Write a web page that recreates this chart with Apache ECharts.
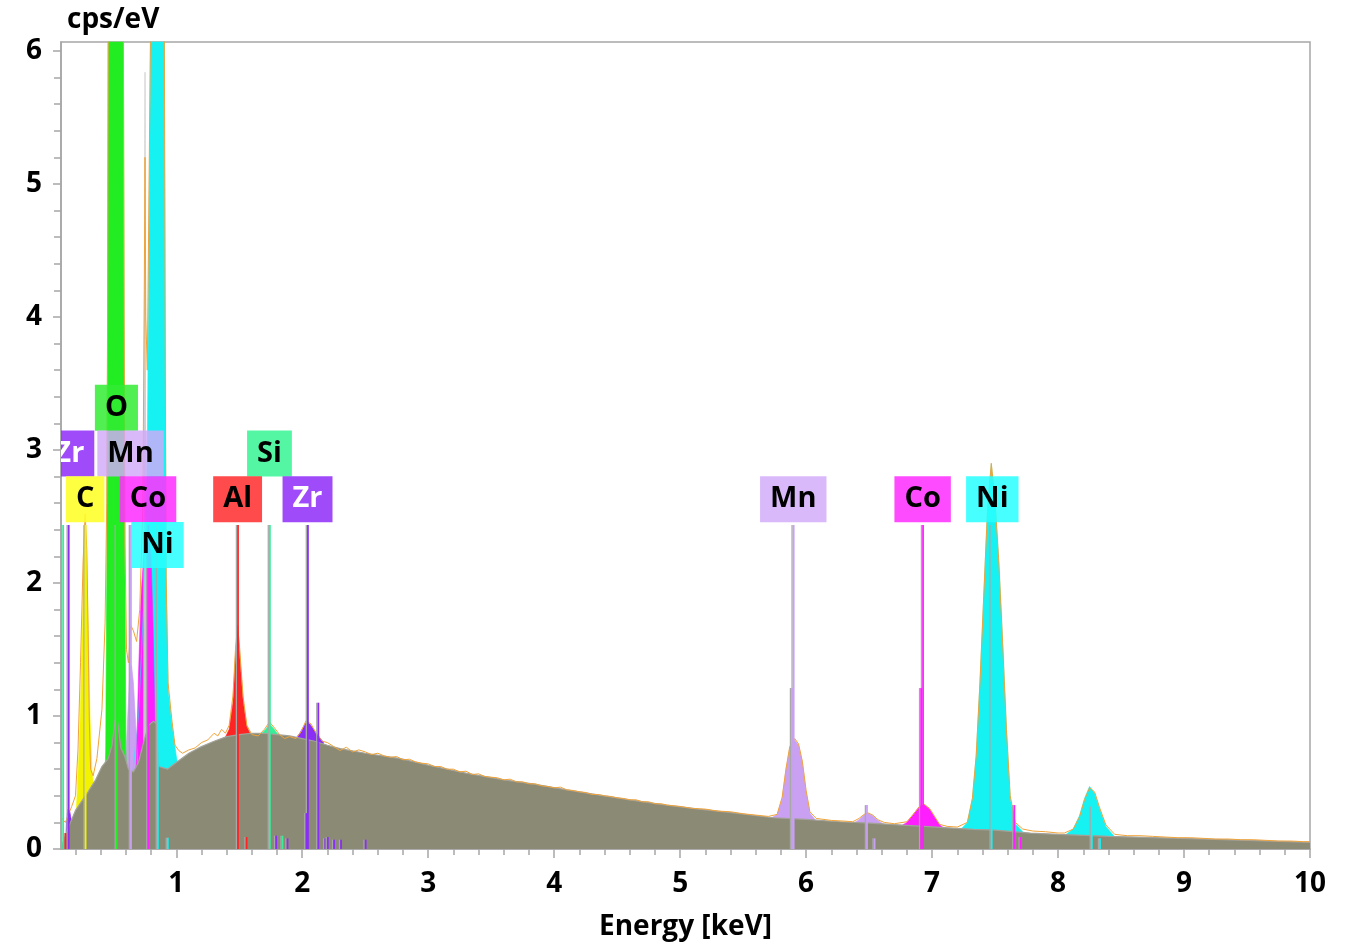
<!DOCTYPE html>
<html>
<head>
<meta charset="utf-8">
<title>EDS spectrum</title>
<script src="https://cdn.jsdelivr.net/npm/echarts@6/dist/echarts.min.js"></script>
<style>
    html, body { margin: 0; padding: 0; background: #fff; }
    #main { width: 1345px; height: 946px; }
</style>
</head>
<body>
<div id="main"></div>
<script>
// axis ticks
var xTicks = [1, 2, 3, 4, 5, 6, 7, 8, 9, 10];
var yTicks = [0, 1, 2, 3, 4, 5, 6];

// gray background (bremsstrahlung), [keV, cps/eV]
var background = [[0.085, 0.02], [0.1, 0.05], [0.12, 0.1], [0.16, 0.2], [0.2, 0.29], [0.25, 0.36], [0.3, 0.43], [0.36, 0.52],
    [0.41, 0.62], [0.46, 0.68], [0.49, 0.78], [0.515, 0.97], [0.535, 0.95], [0.56, 0.76], [0.59, 0.7], [0.62, 0.6], [0.66, 0.58],
    [0.7, 0.65], [0.74, 0.8], [0.78, 0.93], [0.82, 0.96], [0.845, 0.94], [0.86, 0.62], [0.93, 0.6], [1.0, 0.65], [1.1, 0.72],
    [1.2, 0.77], [1.3, 0.81], [1.4, 0.845], [1.5, 0.86], [1.6, 0.87], [1.7, 0.87], [1.8, 0.86], [1.9, 0.85], [2.0, 0.83],
    [2.1, 0.81], [2.2, 0.78], [2.3, 0.755], [2.5, 0.72], [2.78, 0.68], [3.0, 0.63], [3.3, 0.57], [3.6, 0.52], [3.83, 0.49],
    [4.1, 0.445], [4.36, 0.405], [4.6, 0.37], [4.89, 0.33], [5.15, 0.3], [5.42, 0.272], [5.74, 0.235], [6.0, 0.222],
    [6.27, 0.205], [6.5, 0.195], [7.0, 0.167], [7.33, 0.148], [7.5, 0.142], [7.78, 0.12], [8.0, 0.11], [8.4, 0.095],
    [8.97, 0.08], [9.5, 0.065], [10.0, 0.05]];

// element peaks
var peakNiL = [[0.64, 0], [0.66, 0.62], [0.7, 1.0], [0.74, 1.8], [0.77, 3.0], [0.797, 6.2], [0.82, 12], [0.85, 15], [0.88, 12],
    [0.905, 6.2], [0.913, 3.5], [0.92, 2.0], [0.935, 1.2], [0.965, 0.94], [1.0, 0.7], [1.015, 0.62], [1.03, 0]];
var peakMnL = [[0.57, 0], [0.59, 0.5], [0.61, 0.9], [0.63, 1.3], [0.645, 1.38], [0.66, 1.25], [0.68, 0.9], [0.7, 0.55], [0.72, 0]];
var peakCoL = [[0.66, 0], [0.685, 0.7], [0.7, 1.3], [0.72, 1.9], [0.745, 2.25], [0.776, 2.38], [0.8, 2.2], [0.815, 1.7],
    [0.83, 1.0], [0.845, 0.5], [0.86, 0]];
var spike = [[0.738, 0], [0.746, 3.2], [0.752, 5.84], [0.757, 3.2], [0.764, 0]];
var peakO = [[0.42, 0], [0.44, 0.75], [0.448, 2.0], [0.455, 3.8], [0.46, 6.2], [0.475, 22], [0.5, 58], [0.52, 73], [0.545, 58],
    [0.57, 22], [0.58, 6.2], [0.586, 3.8], [0.593, 2.0], [0.6, 0.75], [0.62, 0]];
var peakC = [[0.19, 0], [0.215, 0.45], [0.235, 0.9], [0.25, 1.5], [0.265, 2.1], [0.277, 2.45], [0.29, 2.15], [0.305, 1.5],
    [0.315, 1.0], [0.33, 0.6], [0.35, 0.42], [0.37, 0]];
var peakZrM = [[0.12, 0], [0.128, 0.2], [0.14, 0.3], [0.155, 0.28], [0.17, 0.2], [0.18, 0]];
var peakAl = [[1.38, 0.82], [1.42, 0.9], [1.45, 1.1], [1.47, 1.45], [1.487, 1.66], [1.5, 1.5], [1.53, 1.12], [1.56, 0.92], [1.6, 0.84]];
var peakSi = [[1.64, 0.84], [1.68, 0.87], [1.71, 0.9], [1.74, 0.94], [1.77, 0.91], [1.8, 0.87], [1.84, 0.84]];
var peakZrL = [[1.94, 0.82], [1.98, 0.87], [2.01, 0.92], [2.03, 0.95], [2.06, 0.94], [2.09, 0.9], [2.12, 0.86], [2.17, 0.8]];
var peakMnK = [[5.7, 0.22], [5.77, 0.26], [5.81, 0.38], [5.84, 0.6], [5.87, 0.76], [5.91, 0.82], [5.94, 0.78], [5.97, 0.65],
    [6.0, 0.43], [6.03, 0.27], [6.08, 0.21]];
var peakMnKb = [[6.37, 0.19], [6.42, 0.22], [6.46, 0.255], [6.49, 0.268], [6.53, 0.25], [6.57, 0.215], [6.62, 0.185]];
var peakCoK = [[6.74, 0.165], [6.8, 0.2], [6.85, 0.26], [6.9, 0.32], [6.94, 0.333], [6.98, 0.3], [7.02, 0.24], [7.06, 0.18], [7.1, 0.155]];
var peakNiK = [[7.22, 0.14], [7.28, 0.2], [7.32, 0.38], [7.35, 0.7], [7.38, 1.25], [7.41, 1.9], [7.44, 2.55], [7.47, 2.89],
    [7.5, 2.6], [7.53, 2.15], [7.56, 1.55], [7.59, 0.9], [7.62, 0.38], [7.66, 0.19], [7.72, 0.13]];
var peakNiKb = [[8.05, 0.1], [8.12, 0.15], [8.17, 0.25], [8.21, 0.38], [8.25, 0.47], [8.29, 0.42], [8.33, 0.3], [8.38, 0.17], [8.45, 0.09]];

// measured spectrum (orange line)
var spectrum = [[0.085, 0.24], [0.1, 0.22], [0.12, 0.2], [0.14, 0.25], [0.17, 0.32], [0.2, 0.4], [0.22, 0.75], [0.24, 1.4],
    [0.26, 2.15], [0.277, 2.52], [0.29, 2.25], [0.3, 1.65], [0.31, 0.95], [0.32, 0.6], [0.34, 0.55], [0.37, 0.68], [0.41, 1.05],
    [0.435, 1.7], [0.448, 2.6], [0.455, 4.0], [0.46, 6.3], [0.475, 22], [0.5, 58], [0.52, 73], [0.545, 58], [0.57, 22],
    [0.58, 6.3], [0.586, 4.0], [0.593, 2.3], [0.605, 1.5], [0.62, 1.4], [0.64, 1.68], [0.66, 1.64], [0.685, 1.56], [0.71, 1.8],
    [0.735, 2.6], [0.746, 4.2], [0.752, 5.2], [0.758, 4.0], [0.77, 3.6], [0.797, 6.3], [0.82, 12], [0.85, 15], [0.88, 12],
    [0.905, 6.3], [0.913, 3.6], [0.92, 2.05], [0.935, 1.25], [0.965, 0.97], [0.99, 0.78], [1.02, 0.74], [1.05, 0.72],
    [1.1, 0.745], [1.15, 0.76], [1.2, 0.8], [1.25, 0.82], [1.3, 0.87], [1.33, 0.85], [1.36, 0.9], [1.39, 0.87], [1.42, 0.93],
    [1.45, 1.15], [1.47, 1.5], [1.487, 1.68], [1.5, 1.55], [1.53, 1.15], [1.56, 0.93], [1.6, 0.86], [1.65, 0.85], [1.7, 0.9],
    [1.74, 0.955], [1.78, 0.91], [1.82, 0.86], [1.86, 0.83], [1.9, 0.845], [1.95, 0.83], [1.99, 0.88], [2.03, 0.965],
    [2.07, 0.94], [2.11, 0.87], [2.16, 0.81], [2.2, 0.8], [2.25, 0.77], [2.3, 0.74], [2.35, 0.765], [2.4, 0.73], [2.45, 0.745],
    [2.5, 0.73], [2.55, 0.71], [2.6, 0.72], [2.65, 0.7], [2.7, 0.69], [2.75, 0.695], [2.8, 0.67], [2.85, 0.675], [2.9, 0.655],
    [2.95, 0.645], [3.0, 0.64], [3.05, 0.62], [3.1, 0.62], [3.15, 0.6], [3.2, 0.6], [3.25, 0.58], [3.3, 0.585], [3.35, 0.56],
    [3.4, 0.565], [3.45, 0.545], [3.5, 0.54], [3.55, 0.535], [3.6, 0.52], [3.65, 0.525], [3.7, 0.505], [3.75, 0.505],
    [3.8, 0.49], [3.85, 0.49], [3.9, 0.475], [3.95, 0.47], [4.0, 0.46], [4.05, 0.465], [4.1, 0.445], [4.15, 0.44], [4.2, 0.43],
    [4.25, 0.425], [4.3, 0.41], [4.35, 0.41], [4.4, 0.4], [4.45, 0.395], [4.5, 0.385], [4.55, 0.38], [4.6, 0.37], [4.65, 0.37],
    [4.7, 0.355], [4.75, 0.355], [4.8, 0.34], [4.85, 0.34], [4.9, 0.33], [5.0, 0.32], [5.1, 0.305], [5.2, 0.3], [5.3, 0.285],
    [5.4, 0.28], [5.5, 0.265], [5.6, 0.255], [5.7, 0.245], [5.77, 0.26], [5.81, 0.39], [5.84, 0.6], [5.87, 0.77], [5.91, 0.83],
    [5.94, 0.79], [5.97, 0.66], [6.0, 0.44], [6.03, 0.28], [6.08, 0.23], [6.2, 0.215], [6.3, 0.21], [6.37, 0.205], [6.42, 0.23],
    [6.46, 0.26], [6.49, 0.272], [6.53, 0.255], [6.57, 0.22], [6.62, 0.2], [6.7, 0.19], [6.8, 0.205], [6.85, 0.26], [6.9, 0.32],
    [6.94, 0.335], [6.98, 0.305], [7.02, 0.245], [7.06, 0.185], [7.12, 0.17], [7.2, 0.165], [7.28, 0.2], [7.32, 0.38],
    [7.35, 0.7], [7.38, 1.25], [7.41, 1.9], [7.44, 2.55], [7.47, 2.9], [7.5, 2.62], [7.53, 2.15], [7.56, 1.55], [7.59, 0.9],
    [7.62, 0.4], [7.66, 0.2], [7.72, 0.15], [7.8, 0.135], [7.9, 0.13], [8.0, 0.12], [8.05, 0.12], [8.12, 0.15], [8.17, 0.24],
    [8.21, 0.37], [8.25, 0.46], [8.29, 0.43], [8.33, 0.31], [8.38, 0.18], [8.45, 0.11], [8.55, 0.1], [8.65, 0.1], [8.75, 0.095],
    [8.85, 0.09], [8.95, 0.085], [9.05, 0.085], [9.15, 0.08], [9.25, 0.075], [9.35, 0.075], [9.45, 0.07], [9.55, 0.07],
    [9.65, 0.065], [9.75, 0.06], [9.85, 0.06], [9.95, 0.055], [10.0, 0.055]];

// line markers: energy, height, element
var markerEnergy = [0.099, 0.143, 0.277, 0.525, 0.637, 0.776, 0.851, 1.487, 1.74, 2.042, 5.898, 6.925, 7.47,
    2.125, 5.885, 6.91, 6.48, 6.54, 7.65, 7.7, 8.265, 8.33, 0.117, 0.93, 1.555, 1.79, 1.84, 1.88, 2.03, 2.18, 2.2, 2.25, 2.305, 2.5];
var markerTop = [2.435, 2.435, 2.435, 2.435, 2.435, 2.435, 2.435, 2.435, 2.435, 2.435, 2.435, 2.435, 2.435,
    1.1, 1.21, 1.21, 0.33, 0.08, 0.33, 0.09, 0.32, 0.08, 0.12, 0.085, 0.09, 0.1, 0.1, 0.08, 0.27, 0.08, 0.09, 0.07, 0.07, 0.07];
var markerElement = ['Si', 'Zr', 'C', 'O', 'Mn', 'Co', 'Ni', 'Al', 'Si', 'Zr', 'Mn', 'Co', 'Ni',
    'Zr', 'Mn', 'Co', 'Mn', 'Mn', 'Co', 'Co', 'Ni', 'Ni', 'Al', 'Ni', 'Al', 'Zr', 'Si', 'Zr', 'Zr', 'Zr', 'Zr', 'Zr', 'Zr', 'Zr'];

// element labels
var labelText = ['O', 'Zr', 'Mn', 'Si', 'C', 'Co', 'Al', 'Zr', 'Ni', 'Mn', 'Co', 'Ni'];
var labelEnergy = [0.525, 0.151, 0.637, 1.74, 0.277, 0.776, 1.487, 2.042, 0.851, 5.898, 6.925, 7.478];
var labelRow = [0, 1, 1, 1, 2, 2, 2, 2, 3, 2, 2, 2];

var rowValue = [3.318, 2.974, 2.63, 2.286];
var elemColor = { C: '#f3f300', O: '#22ec22', Al: '#ff2424', Si: '#38ee98', Mn: '#c9a0f2', Co: '#ff1eff', Ni: '#16f2f2', Zr: '#8a2ef5' };
var labelBg = {
    C: 'rgba(255,255,40,0.88)', O: 'rgba(50,236,50,0.85)', Al: 'rgba(255,50,50,0.88)', Si: 'rgba(60,245,150,0.88)',
    Mn: 'rgba(210,170,250,0.82)', Co: 'rgba(255,50,255,0.88)', Ni: 'rgba(40,255,255,0.85)', Zr: 'rgba(150,55,250,0.9)'
};
var FONT = '"Open Sans", "DejaVu Sans", sans-serif';
var AXIS_GRAY = '#a6a6a6';

var xMinor = [], yMinor = [];
for (var t = 2; t < 100; t += 2) { if (t % 10) xMinor.push(t / 10); }
for (var u = 2; u < 60; u += 2) { if (u % 10) yMinor.push(u / 10); }

function area(data, color) {
    return {
        type: 'line', data: data, symbol: 'none', silent: true, z: 2,
        lineStyle: { width: 0.6, color: color },
        areaStyle: { color: color, opacity: 1 }
    };
}

var chart = echarts.init(document.getElementById('main'));

var option = {
    animation: false,
    grid: { left: 61, right: 35, top: 42, bottom: 94, show: true, borderColor: AXIS_GRAY, borderWidth: 1.5 },
    graphic: [{
        type: 'text', left: 67, top: 6,
        style: { text: 'cps/eV', font: 'bold 28px ' + FONT, fill: '#000' }
    }],
    xAxis: [{
        type: 'value', min: 0.085, max: 10, position: 'bottom',
        name: 'Energy [keV]', nameLocation: 'middle', nameGap: 64,
        nameTextStyle: { fontFamily: FONT, fontWeight: 'bold', fontSize: 28, color: '#000' },
        axisLine: { lineStyle: { color: AXIS_GRAY, width: 1.5 } },
        axisTick: { customValues: xTicks, length: 9, lineStyle: { color: AXIS_GRAY, width: 1.5 } },
        axisLabel: { customValues: xTicks, margin: 21, fontFamily: FONT, fontWeight: 'bold', fontSize: 28, color: '#000' },
        splitLine: { show: false }
    }, {
        type: 'value', min: 0.085, max: 10, position: 'bottom',
        axisLine: { show: false },
        axisTick: { customValues: xMinor, length: 6, lineStyle: { color: AXIS_GRAY, width: 1.5 } },
        axisLabel: { show: false },
        splitLine: { show: false }
    }],
    yAxis: [{
        type: 'value', min: 0, max: 6.067, position: 'left',
        axisLine: { show: true, lineStyle: { color: AXIS_GRAY, width: 1.5 } },
        axisTick: { show: true, customValues: yTicks, length: 8, lineStyle: { color: AXIS_GRAY, width: 1.5 } },
        axisLabel: { customValues: yTicks, margin: 19, fontFamily: FONT, fontWeight: 'bold', fontSize: 28, color: '#000' },
        splitLine: { show: false }
    }, {
        type: 'value', min: 0, max: 6.067, position: 'left',
        axisLine: { show: false },
        axisTick: { show: true, customValues: yMinor, length: 7, lineStyle: { color: AXIS_GRAY, width: 1.5 } },
        axisLabel: { show: false },
        splitLine: { show: false }
    }],
    series: [
        area(peakNiL, elemColor.Ni),
        area(peakMnL, elemColor.Mn),
        area(peakCoL, elemColor.Co),
        area(spike, '#c6c6c6'),
        area(peakO, elemColor.O),
        area(peakC, elemColor.C),
        area(peakZrM, elemColor.Zr),
        area(peakAl, elemColor.Al),
        area(peakSi, elemColor.Si),
        area(peakZrL, elemColor.Zr),
        area(peakMnK, elemColor.Mn),
        area(peakMnKb, elemColor.Mn),
        area(peakCoK, elemColor.Co),
        area(peakNiK, elemColor.Ni),
        area(peakNiKb, elemColor.Ni),
        {
            type: 'line', data: background, symbol: 'none', silent: true, z: 3,
            lineStyle: { width: 1.2, color: '#a3a29a' },
            areaStyle: { color: '#8b8a75', opacity: 1 }
        },
        {
            type: 'line', data: spectrum, symbol: 'none', silent: true, z: 4,
            lineStyle: { width: 1, color: '#f0a33a' }
        },
        {
            type: 'custom', clip: true, silent: true, z: 5,
            data: markerEnergy.map(function(e, i) { return [e, markerTop[i]]; }),
            encode: { x: 0, y: 1 },
            renderItem: function(params, api) {
                var p0 = api.coord([api.value(0), 0]);
                var p1 = api.coord([api.value(0), api.value(1)]);
                var c = elemColor[markerElement[params.dataIndex]];
                return {
                    type: 'group',
                    children: [{
                        type: 'line',
                        shape: { x1: p0[0] - 1.2, y1: p0[1], x2: p1[0] - 1.2, y2: p1[1] },
                        style: { stroke: '#a8a8a8', lineWidth: 1.3 }
                    }, {
                        type: 'line',
                        shape: { x1: p0[0] + 0.4, y1: p0[1], x2: p1[0] + 0.4, y2: p1[1] },
                        style: { stroke: c, lineWidth: 1.8 }
                    }]
                };
            }
        },
        {
            type: 'custom', clip: true, silent: true, z: 10,
            data: labelEnergy.map(function(e, i) { return [e, rowValue[labelRow[i]]]; }),
            encode: { x: 0, y: 1 },
            renderItem: function(params, api) {
                var i = params.dataIndex;
                var p = api.coord([api.value(0), api.value(1)]);
                var el = labelText[i];
                return {
                    type: 'text', x: p[0], y: p[1], z2: 100,
                    style: {
                        text: el, font: 'bold 29px ' + FONT,
                        fill: el === 'Zr' ? '#fff' : '#000',
                        align: 'center', verticalAlign: 'middle',
                        backgroundColor: labelBg[el],
                        padding: [9, 10, 9, 10], lineHeight: 28
                    }
                };
            }
        }
    ]
};

chart.setOption(option);
window.addEventListener('resize', function() {
    chart.resize();
});
</script>
</body>
</html>
